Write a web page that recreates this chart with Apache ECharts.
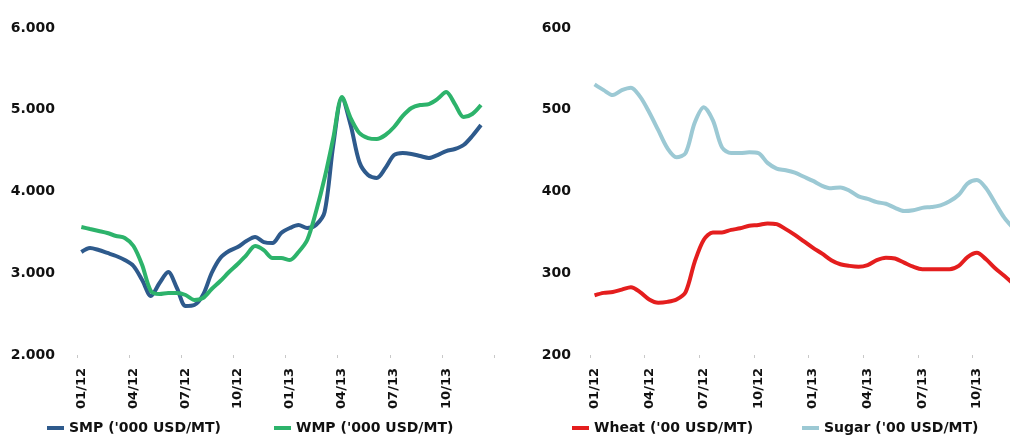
<!DOCTYPE html>
<html>
<head>
<meta charset="utf-8">
<script src="https://cdn.jsdelivr.net/npm/echarts@6/dist/echarts.min.js"></script>
<style>html,body{margin:0;padding:0;background:#fff;}#c{width:1010px;height:435px;}</style>
</head>
<body>
<div id="c"></div>
<script>
// Half-month periods, Jan 2012 – Dec 2013
const periods = [
  '01/12 a','01/12 b','02/12 a','02/12 b','03/12 a','03/12 b','04/12 a','04/12 b',
  '05/12 a','05/12 b','06/12 a','06/12 b','07/12 a','07/12 b','08/12 a','08/12 b',
  '09/12 a','09/12 b','10/12 a','10/12 b','11/12 a','11/12 b','12/12 a','12/12 b',
  '01/13 a','01/13 b','02/13 a','02/13 b','03/13 a','03/13 b','04/13 a','04/13 b',
  '05/13 a','05/13 b','06/13 a','06/13 b','07/13 a','07/13 b','08/13 a','08/13 b',
  '09/13 a','09/13 b','10/13 a','10/13 b','11/13 a','11/13 b','12/13 a','12/13 b'
];
const leftTicks = [2000, 3000, 4000, 5000, 6000];
const rightTicks = [200, 300, 400, 500, 600];

const smp = [3260,3309,3284,3248,3211,3162,3089,2917,2722,2881,3015,2820,2600,2612,2734,3003,
  3187,3272,3321,3394,3443,3382,3370,3492,3553,3590,3553,3590,3749,4569,5144,4813,
  4361,4202,4165,4287,4446,4471,4459,4434,4410,4446,4495,4520,4569,4679,4813];
const wmp = [3566,3541,3517,3492,3456,3431,3333,3101,2783,2746,2758,2758,2734,2673,2697,2807,
  2905,3015,3113,3223,3333,3284,3187,3187,3162,3260,3407,3749,4165,4654,5156,4899,
  4716,4654,4642,4691,4789,4924,5021,5058,5070,5132,5217,5070,4911,4948,5058];
const wheat = [273,276,277,280,283,277,268,264,265,268,277,314,341,350,350,353,
  355,358,359,361,360,354,347,339,331,324,316,311,309,308,310,316,
  319,318,313,308,305,305,305,305,309,320,325,317,306,297,287];
const sugar = [531,524,518,524,527,516,497,475,453,442,447,484,503,487,454,447,
  447,448,447,435,428,426,423,418,413,407,404,405,401,394,391,387,
  385,380,376,377,380,381,383,388,396,410,414,404,386,368,355];

const FONT = 'DejaVu Sans';
const chart = echarts.init(document.getElementById('c'), null, {renderer: 'canvas'});

function xAxisCfg(gridIndex) {
  return {
    type: 'category', gridIndex, data: periods, boundaryGap: true,
    axisLine: {show: false},
    axisTick: {show: true, length: 3, interval: (i) => i % 6 === 0, lineStyle: {color: '#c8c8c8'}},
    axisLabel: {
      interval: 5, rotate: 90, margin: 13,
      fontFamily: FONT, fontWeight: 'bold', fontSize: 13, color: '#111',
      formatter: (v) => v.split(' ')[0]
    },
    splitLine: {show: false}
  };
}
function yAxisCfg(gridIndex, ticks, margin, fmt) {
  return {
    type: 'value', gridIndex, min: ticks[0], max: ticks[ticks.length - 1],
    interval: ticks[1] - ticks[0],
    axisLine: {show: false}, axisTick: {show: false}, splitLine: {show: false},
    axisLabel: {margin, fontFamily: FONT, fontWeight: 'bold', fontSize: 14, color: '#111', formatter: fmt}
  };
}
function legendCfg(name, left) {
  return {
    data: [name], left, top: 416, icon: 'rect', itemWidth: 17, itemHeight: 4,
    textStyle: {fontFamily: FONT, fontWeight: 'bold', fontSize: 14, color: '#111', lineHeight: 14}
  };
}
function lineSeries(name, data, xi, color) {
  return {
    name, type: 'line', xAxisIndex: xi, yAxisIndex: xi, data,
    symbol: 'none', smooth: 0.3, lineStyle: {width: 4, color}, itemStyle: {color},
    animation: false
  };
}

chart.setOption({
  animation: false,
  grid: [
    {left: 77, top: 28, width: 417, height: 327, outerBoundsMode: 'none', containLabel: false},
    {left: 590, top: 28, width: 437, height: 327, outerBoundsMode: 'none', containLabel: false}
  ],
  xAxis: [xAxisCfg(0), xAxisCfg(1)],
  yAxis: [
    yAxisCfg(0, leftTicks, 22, (v) => (v / 1000).toFixed(0) + '.000'),
    yAxisCfg(1, rightTicks, 19, (v) => String(v))
  ],
  legend: [
    legendCfg("SMP ('000 USD/MT)", 42),
    legendCfg("WMP ('000 USD/MT)", 269),
    legendCfg("Wheat ('00 USD/MT)", 567),
    legendCfg("Sugar ('00 USD/MT)", 797)
  ],
  series: [
    lineSeries("SMP ('000 USD/MT)", smp, 0, '#2E5A8C'),
    lineSeries("WMP ('000 USD/MT)", wmp, 0, '#2DB36B'),
    lineSeries("Wheat ('00 USD/MT)", wheat, 1, '#E41E1E'),
    lineSeries("Sugar ('00 USD/MT)", sugar, 1, '#9CC9D4')
  ]
});
</script>
</body>
</html>
